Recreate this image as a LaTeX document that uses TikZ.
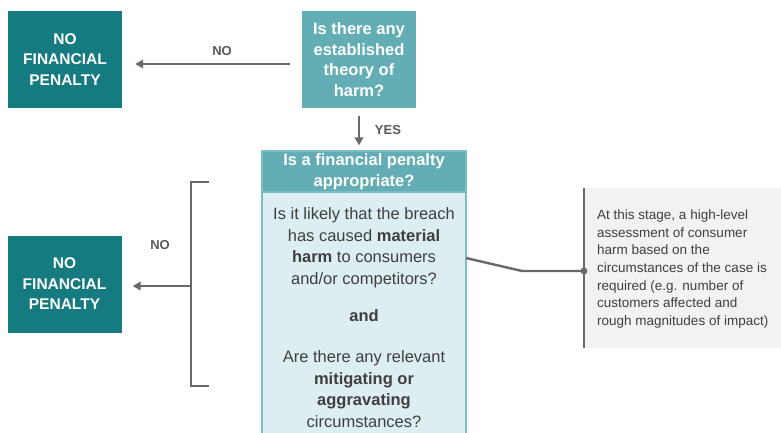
\documentclass[tikz,border=0pt]{standalone}
\usepackage{fontspec}
\setmainfont{Liberation Sans}
\usetikzlibrary{arrows.meta}

\definecolor{darkteal}{HTML}{167B81}
\definecolor{midteal}{HTML}{62AEB4}
\definecolor{paleblue}{HTML}{DDEEF3}
\definecolor{edgeteal}{HTML}{79BCC2}
\definecolor{linegray}{HTML}{686868}
\definecolor{labelgray}{HTML}{595959}
\definecolor{bodytext}{HTML}{3F3F3F}
\definecolor{notefill}{HTML}{F2F2F2}

\tikzset{
  outcome/.style={fill=darkteal, text=white, minimum width=114pt, minimum height=97pt,
    align=center, font=\fontsize{15.5}{20.5}\selectfont\bfseries, inner sep=0pt},
  question/.style={fill=midteal, text=white, minimum width=114pt, minimum height=97pt,
    align=center, font=\fontsize{16.5}{20.5}\selectfont\bfseries, inner sep=0pt},
  header/.style={fill=midteal, draw=edgeteal, line width=1.2pt, text=white,
    minimum width=204pt, minimum height=41pt, align=center,
    font=\fontsize{16.5}{21}\selectfont\bfseries, inner sep=0pt},
  bodytxt/.style={text=bodytext, align=center, font=\fontsize{16.5}{21.5}\selectfont, inner sep=0pt},
  notetxt/.style={text=bodytext, align=left, font=\fontsize{13.5}{17.6}\selectfont, inner sep=0pt},
  flow/.style={draw=linegray, line width=2.7pt, -{Triangle[length=8pt,width=8.5pt]}},
  plain/.style={draw=linegray, line width=2.7pt},
  decision/.style={text=labelgray, font=\fontsize{13}{15}\selectfont\bfseries, inner sep=0pt}
}

\begin{document}
\begin{tikzpicture}[x=1pt, y=-1pt]
  \path[use as bounding box] (0,0) rectangle (781,432);

  % top row
  \node[outcome] (none1) at (65,59.5) {NO\\FINANCIAL\\PENALTY};
  \node[question] (theory) at (359,59.5) {Is there any\\established\\theory of\\harm?};
  \coordinate (nostart) at (302,64);
  \draw[flow, shorten <=12pt, shorten >=13pt] (nostart) -- (none1.east |- nostart);
  \node[decision] (no1) at (222,51) {NO};

  % main assessment box
  \node[header] (head) at (364,171.5) {Is a financial penalty\\appropriate?};
  \fill[paleblue] (262,192) rectangle (466,436);
  \draw[edgeteal, line width=1.2pt] (262,436) -- (262,192) -- (466,192) -- (466,436);
  \node[inner sep=0pt, minimum width=204pt, minimum height=244pt, anchor=north] (body) at (364,192) {};
  \node[bodytxt] (harmq) at (364,247.5) {Is it likely that the breach\\has caused \textbf{material}\\\textbf{harm} to consumers\\and/or competitors?};
  \node[bodytxt, font=\fontsize{16.5}{21.5}\selectfont\bfseries] (andtxt) at (364,316) {and};
  \node[bodytxt] (mitq) at (364,389) {Are there any relevant\\\textbf{mitigating or}\\\textbf{aggravating}\\circumstances?};

  \draw[flow, shorten <=8pt, shorten >=5pt] (theory.south) -- (theory.south |- head.north);
  \node[decision] (yes) at (388,130) {YES};

  % bracket and second exit
  \coordinate (brtop) at (209,182);
  \coordinate (brbot) at (209,386);
  \coordinate (brmid) at (191,286);
  \draw[plain] (brtop) -- (191,182) -- (191,386) -- (brbot);
  \node[outcome] (none2) at (64.5,284) {NO\\FINANCIAL\\PENALTY};
  \draw[flow, shorten >=11pt] (brmid) -- (none2.east |- brmid);
  \node[decision] (no2) at (160,245) {NO};

  % side note
  \node[fill=notefill, minimum width=197pt, minimum height=160pt, inner sep=0pt, anchor=north west] (note) at (584,188) {};
  \draw[plain] (note.north west) -- (note.south west);
  \node[notetxt, anchor=west] (notetext) at (597,269) {At this stage, a high-level\\assessment of consumer\\harm based on the\\circumstances of the case is\\required (e.g. number of\\customers affected and\\rough magnitudes of impact)};
  \coordinate (hook) at (466,258);
  \coordinate (bend) at (522,271);
  \coordinate (pin) at (584,271);
  \draw[plain, line width=2.4pt] (hook) -- (bend) -- (pin);
  \fill[linegray] (pin) circle (3.4pt);
\end{tikzpicture}
\end{document}
